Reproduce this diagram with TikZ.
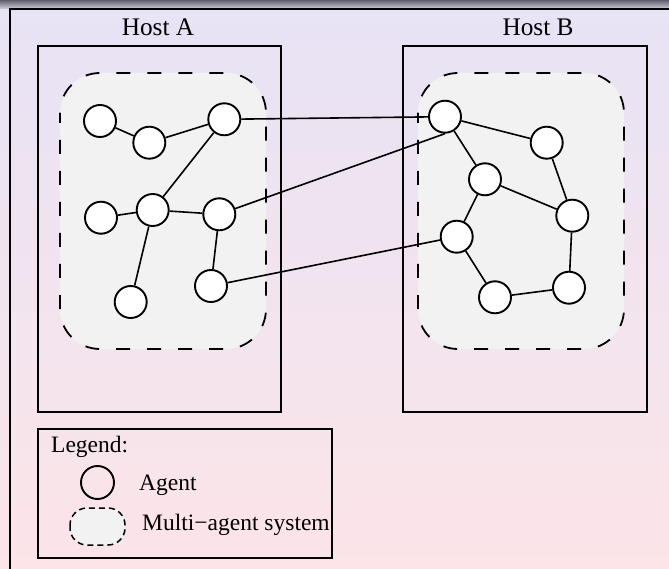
\documentclass[tikz,border=0pt]{standalone}
\usepackage{fontspec}
\setmainfont{Liberation Serif}
\definecolor{bgtop}{RGB}{231,227,245}
\definecolor{bgbot}{RGB}{252,228,232}
\definecolor{bartop}{RGB}{95,93,105}
\definecolor{barbot}{RGB}{205,203,216}
\definecolor{masfill}{RGB}{242,242,242}
\tikzset{
  agent/.style={circle, draw, fill=white, line width=1.9pt, minimum size=32pt, inner sep=0pt},
  link/.style={line width=1.6pt},
  hostbox/.style={draw, line width=2pt},
  masbox/.style={draw, dash pattern=on 14pt off 17pt, dash phase=4pt, line width=1.8pt, fill=masfill, rounded corners=40pt},
  lbl/.style={font=\fontsize{23.5}{28}\selectfont, inner sep=0pt},
  hostlbl/.style={font=\fontsize{25.3}{30}\selectfont, inner sep=0pt},
}
\begin{document}
\begin{tikzpicture}[x=1pt, y=-1pt]
\useasboundingbox (0,0) rectangle (669,569);
% background
\shade[top color=bgtop, bottom color=bgbot] (0,0) rectangle (669,569);
\shade[top color=bartop, bottom color=barbot] (0,0) rectangle (669,8.5);
\draw[line width=2pt] (10,569) -- (10,9.5) -- (669,9.5);
% hosts
\draw[hostbox] (37.5,46.5) rectangle (281,412);
\draw[hostbox] (403,46.5) rectangle (646.5,411.5);
\node[hostlbl, anchor=base] (hostA) at (158,36) {Host A};
\node[hostlbl, anchor=base] (hostB) at (538,36) {Host B};
% multi-agent systems
\draw[masbox] (60,73) rectangle (266,349);
\draw[masbox] (418,73) rectangle (624,349);
% agents host A
\node[agent] (a1) at (100,121) {};
\node[agent] (a2) at (149.3,142.7) {};
\node[agent] (a3) at (224.3,119.3) {};
\node[agent] (a4) at (101,217.7) {};
\node[agent] (a5) at (152.7,210) {};
\node[agent] (a6) at (219.3,214.3) {};
\node[agent] (a7) at (130.7,302) {};
\node[agent] (a8) at (211,286) {};
% agents host B
\node[agent] (b1) at (445,116.7) {};
\node[agent] (b2) at (546.7,142.7) {};
\node[agent] (b3) at (485,179.3) {};
\node[agent] (b4) at (456.7,236.7) {};
\node[agent] (b5) at (572.3,215.7) {};
\node[agent] (b6) at (495,297.3) {};
\node[agent] (b7) at (569,287.7) {};
% links
\draw[link] (a1) -- (a2);
\draw[link] (a2) -- (a3);
\draw[link] (a3) -- (a5);
\draw[link] (a4) -- (a5);
\draw[link] (a5) -- (a6);
\draw[link] (a5) -- (a7);
\draw[link] (a6) -- (a8);
\draw[link] (b1) -- (b2);
\draw[link] (b1) -- (b3);
\draw[link] (b3) -- (b5);
\draw[link] (b2) -- (b5);
\draw[link] (b3) -- (b4);
\draw[link] (b4) -- (b6);
\draw[link] (b6) -- (b7);
\draw[link] (b7) -- (b5);
\draw[link] (a3) -- (b1);
\draw[link] (a6) -- (b1.south);
\draw[link] (a8) -- (b4);
% legend
\draw[hostbox] (38,429) rectangle (332,558);
\node[lbl, anchor=base west] (legtitle) at (51,452) {Legend:};
\node[circle, draw, line width=1.9pt, minimum size=33pt, inner sep=0pt] (lagent) at (97.5,482.5) {};
\node[lbl, anchor=base west] (lagenttext) at (139,490) {Agent};
\draw[dash pattern=on 6pt off 4pt, line width=1.5pt, fill=masfill, rounded corners=17pt] (70,508) rectangle (125,545);
\node[lbl, anchor=base west] (lmastext) at (142,530) {Multi\textminus agent system};
\end{tikzpicture}
\end{document}
